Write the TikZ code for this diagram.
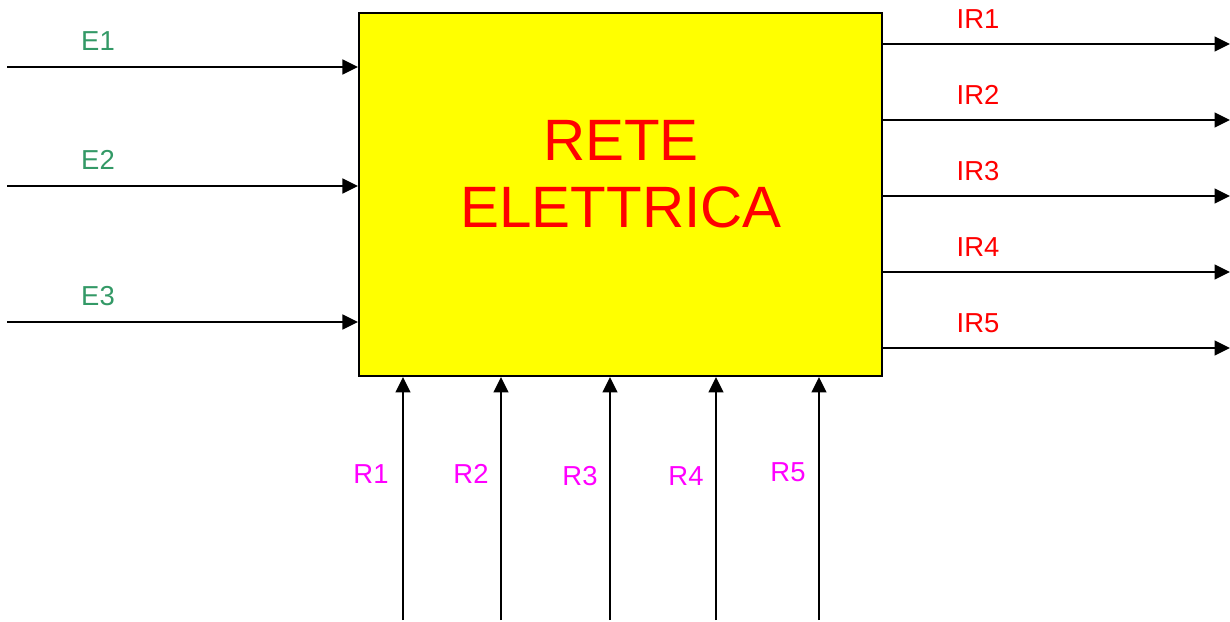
\documentclass[tikz,border=0pt]{standalone}
\usepackage{fontspec}
\setmainfont{Liberation Sans}
\usetikzlibrary{arrows.meta, calc}
\usepackage{xcolor}
\definecolor{entgreen}{HTML}{339966}
\definecolor{bloccogiallo}{RGB}{255,255,0}
\definecolor{uscitarossa}{RGB}{255,0,0}
\definecolor{resmagenta}{RGB}{255,0,255}

\begin{document}
\begin{tikzpicture}[x=0.025cm, y=-0.025cm,
  blocco/.style={draw, line width=1.4pt, fill=bloccogiallo, minimum width=13.075cm, minimum height=9.075cm, inner sep=0pt},
  titolo/.style={align=center, text=uscitarossa, font=\fontsize{41.5}{47.7}\selectfont, inner sep=0pt},
  sig/.style={-{Triangle[length=11pt, width=10.5pt]}, line width=1.4pt},
  elab/.style={anchor=base, text=entgreen, font=\fontsize{19.5}{22}\selectfont},
  irlab/.style={anchor=base, text=uscitarossa, font=\fontsize{19.5}{22}\selectfont},
  rlab/.style={anchor=base, text=resmagenta, font=\fontsize{19.5}{22}\selectfont}
]
\useasboundingbox (0,0) rectangle (1230,622);

% Main block
\node[blocco] (rete) at (620.5,194.5) {};
\node[titolo] (nome) at (621,174) {RETE\\ELETTRICA};

% Inputs E (left side)
\coordinate (e1) at (7,67);
\coordinate (e2) at (7,186);
\coordinate (e3) at (7,322);
\foreach \i in {1,2,3}{\draw[sig] (e\i) -- (e\i -| rete.west);}
\node[elab] (le1) at (98,51) {E1};
\node[elab] (le2) at (98,170) {E2};
\node[elab] (le3) at (98,306) {E3};

% Outputs IR (right side)
\foreach \i/\y in {1/44,2/120,3/196,4/272,5/348}{
  \coordinate (ir\i) at (1230,\y);
  \draw[sig] (ir\i -| rete.east) -- (ir\i);
  \node[irlab] (lir\i) at (978,\y-15.5) {IR\i};
}

% Inputs R (bottom side)
\foreach \i/\x/\lx/\ly in {1/403/371/483,2/501/471/483,3/610/580/486,4/716/686/486,5/819/788/482}{
  \coordinate (r\i) at (\x,620);
  \draw[sig] (r\i) -- (r\i |- rete.south);
  \node[rlab] (lr\i) at (\lx,\ly) {R\i};
}
\end{tikzpicture}
\end{document}
